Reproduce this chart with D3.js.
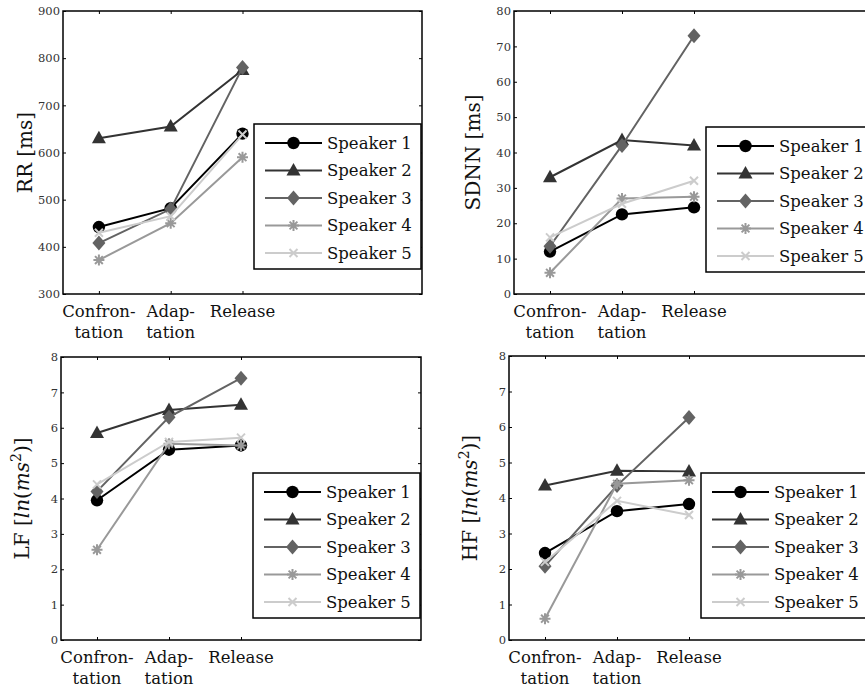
<!DOCTYPE html>
<html>
<head>
<meta charset="utf-8">
<script src="https://d3js.org/d3.v7.min.js"></script>
<style>
  body { margin: 0; background: #fff; }
  svg { display: block; font-family: "DejaVu Serif", "Liberation Serif", serif; }
  .tick text { fill: #333; }
</style>
</head>
<body>
<div id="chart"></div>
<script>
// ---- data ----
var phaseLines = [["Confron-", "tation"], ["Adap-", "tation"], ["Release"]];
var speakers = ["Speaker 1", "Speaker 2", "Speaker 3", "Speaker 4", "Speaker 5"];

// one row per speaker: confrontation, adaptation, release
var rrValues = [
  [442, 482, 640],
  [630, 655, 775],
  [408, 480, 780],
  [372, 450, 590],
  [430, 465, 638]
];
var rrTicks = [300, 400, 500, 600, 700, 800, 900];

var sdnnValues = [
  [12, 22.5, 24.5],
  [33, 43.5, 42],
  [13.5, 42, 73],
  [6, 27, 27.5],
  [16, 25.5, 32]
];
var sdnnTicks = [0, 10, 20, 30, 40, 50, 60, 70, 80];

var lfValues = [
  [3.95, 5.38, 5.5],
  [5.85, 6.5, 6.65],
  [4.2, 6.3, 7.4],
  [2.55, 5.55, 5.5],
  [4.4, 5.6, 5.72]
];
var hfValues = [
  [2.45, 3.63, 3.83],
  [4.35, 4.77, 4.75],
  [2.08, 4.35, 6.27],
  [0.6, 4.4, 4.5],
  [2.2, 3.92, 3.52]
];
var powerTicks = [0, 1, 2, 3, 4, 5, 6, 7, 8];

var rrLabel = [{t: "RR [ms]"}];
var sdnnLabel = [{t: "SDNN [ms]"}];
var lfLabel = [{t: "LF ["}, {t: "ln", i: 1}, {t: "("}, {t: "ms", i: 1}, {t: "2", sup: 1}, {t: ")]"}];
var hfLabel = [{t: "HF ["}, {t: "ln", i: 1}, {t: "("}, {t: "ms", i: 1}, {t: "2", sup: 1}, {t: ")]"}];

// ---- styling ----
var colors = ["#000000", "#333333", "#636363", "#999999", "#cccccc"];
var shapes = ["circle", "triangle", "diamond", "asterisk", "cross"];
var serif = "DejaVu Serif, Liberation Serif, serif";

var panels = [
  {values: rrValues, ticks: rrTicks, label: rrLabel, left: 63, right: 422, top: 11, bottom: 294, labelX: 25, legendTop: 124},
  {values: sdnnValues, ticks: sdnnTicks, label: sdnnLabel, left: 514, right: 874, top: 11, bottom: 294, labelX: 473, legendTop: 127},
  {values: lfValues, ticks: powerTicks, label: lfLabel, left: 61, right: 421, top: 357, bottom: 640, labelX: 22, legendTop: 473},
  {values: hfValues, ticks: powerTicks, label: hfLabel, left: 509, right: 869, top: 356, bottom: 640, labelX: 470, legendTop: 473}
];

var svg = d3.select("#chart").append("svg")
  .attr("width", 865)
  .attr("height", 691);

function drawMarker(g, shape, color, cx, cy) {
  if (shape == "circle") {
    g.append("circle").attr("cx", cx).attr("cy", cy).attr("r", 6.2).attr("fill", color);
  } else if (shape == "triangle") {
    g.append("path").attr("transform", "translate(" + cx + "," + cy + ")")
      .attr("d", "M0,-7.5L7,5L-7,5Z").attr("fill", color);
  } else if (shape == "diamond") {
    g.append("path").attr("transform", "translate(" + cx + "," + cy + ")")
      .attr("d", "M0,-7.5L6.5,0L0,7.5L-6.5,0Z").attr("fill", color);
  } else if (shape == "asterisk") {
    g.append("path").attr("transform", "translate(" + cx + "," + cy + ")")
      .attr("d", "M-5.5,0H5.5M0,-5.5V5.5M-3.9,-3.9L3.9,3.9M-3.9,3.9L3.9,-3.9")
      .attr("stroke", color).attr("stroke-width", 2).attr("fill", "none");
  } else {
    g.append("path").attr("transform", "translate(" + cx + "," + cy + ")")
      .attr("d", "M-4,-4L4,4M-4,4L4,-4")
      .attr("stroke", color).attr("stroke-width", 2).attr("fill", "none");
  }
}

panels.forEach(function(p) {
  var x = d3.scaleLinear().domain([0.5, 5.5]).range([p.left, p.right]);
  var y = d3.scaleLinear().domain([p.ticks[0], p.ticks[p.ticks.length - 1]]).range([p.bottom, p.top]);
  var g = svg.append("g");

  // axes with inward ticks on all four sides
  g.append("g").attr("transform", "translate(0," + p.bottom + ")")
    .call(d3.axisBottom(x).tickValues([1, 2, 3]).tickSize(-3).tickPadding(0).tickFormat(""));
  g.append("g").attr("transform", "translate(0," + p.top + ")")
    .call(d3.axisTop(x).tickValues([1, 2, 3]).tickSize(-3).tickFormat(""));
  g.append("g").attr("transform", "translate(" + p.left + ",0)")
    .attr("font-family", serif)
    .call(d3.axisLeft(y).tickValues(p.ticks).tickSize(-3).tickPadding(3))
    .attr("font-family", serif)
    .attr("font-size", 11.5);
  g.append("g").attr("transform", "translate(" + p.right + ",0)")
    .call(d3.axisRight(y).tickValues(p.ticks).tickSize(-3).tickFormat(""));
  g.selectAll(".domain").remove();
  g.selectAll(".tick line").attr("stroke", "#000").attr("stroke-width", 1);

  g.append("rect")
    .attr("x", p.left).attr("y", p.top)
    .attr("width", p.right - p.left).attr("height", p.bottom - p.top)
    .attr("fill", "none").attr("stroke", "#000").attr("stroke-width", 1.5);

  // category labels (two lines, hyphenated)
  phaseLines.forEach(function(lines, i) {
    var t = g.append("text")
      .attr("text-anchor", "middle")
      .attr("font-size", 16.5)
      .attr("fill", "#111");
    lines.forEach(function(s, j) {
      t.append("tspan").attr("x", x(i + 1)).attr("y", p.bottom + 23 + j * 21).text(s);
    });
  });

  // y label
  var cy = (p.top + p.bottom) / 2;
  var lab = g.append("text")
    .attr("transform", "translate(" + p.labelX + "," + cy + ") rotate(-90)")
    .attr("text-anchor", "middle")
    .attr("dy", "0.35em")
    .attr("font-size", 20)
    .attr("fill", "#111");
  var shifted = false;
  p.label.forEach(function(seg) {
    var ts = lab.append("tspan").text(seg.t);
    if (seg.i) ts.attr("font-style", "italic");
    if (seg.sup) { ts.attr("font-size", 14).attr("dy", -8); shifted = true; }
    else if (shifted) { ts.attr("dy", 8); shifted = false; }
  });

  // series
  var line = d3.line().x(function(d, i) { return x(i + 1); }).y(function(d) { return y(d); });
  p.values.forEach(function(vals, s) {
    var sg = g.append("g");
    sg.append("path").datum(vals).attr("d", line)
      .attr("fill", "none").attr("stroke", colors[s]).attr("stroke-width", 2);
    vals.forEach(function(v, i) { drawMarker(sg, shapes[s], colors[s], x(i + 1), y(v)); });
  });

  // legend
  var lw = 167, lh = 145;
  var lx = p.right - 1 - lw, ly = p.legendTop;
  var leg = g.append("g");
  leg.append("rect").attr("x", lx).attr("y", ly).attr("width", lw).attr("height", lh)
    .attr("fill", "#fff").attr("stroke", "#000").attr("stroke-width", 1.5);
  speakers.forEach(function(name, s) {
    var ry = ly + 19 + s * 27.5;
    leg.append("line").attr("x1", lx + 11).attr("x2", lx + 68).attr("y1", ry).attr("y2", ry)
      .attr("stroke", colors[s]).attr("stroke-width", 2);
    drawMarker(leg, shapes[s], colors[s], lx + 39.5, ry);
    leg.append("text").attr("x", lx + 73).attr("y", ry).attr("dy", "0.35em")
      .attr("font-size", 16.5).attr("fill", "#111").text(name);
  });
});
</script>
</body>
</html>
